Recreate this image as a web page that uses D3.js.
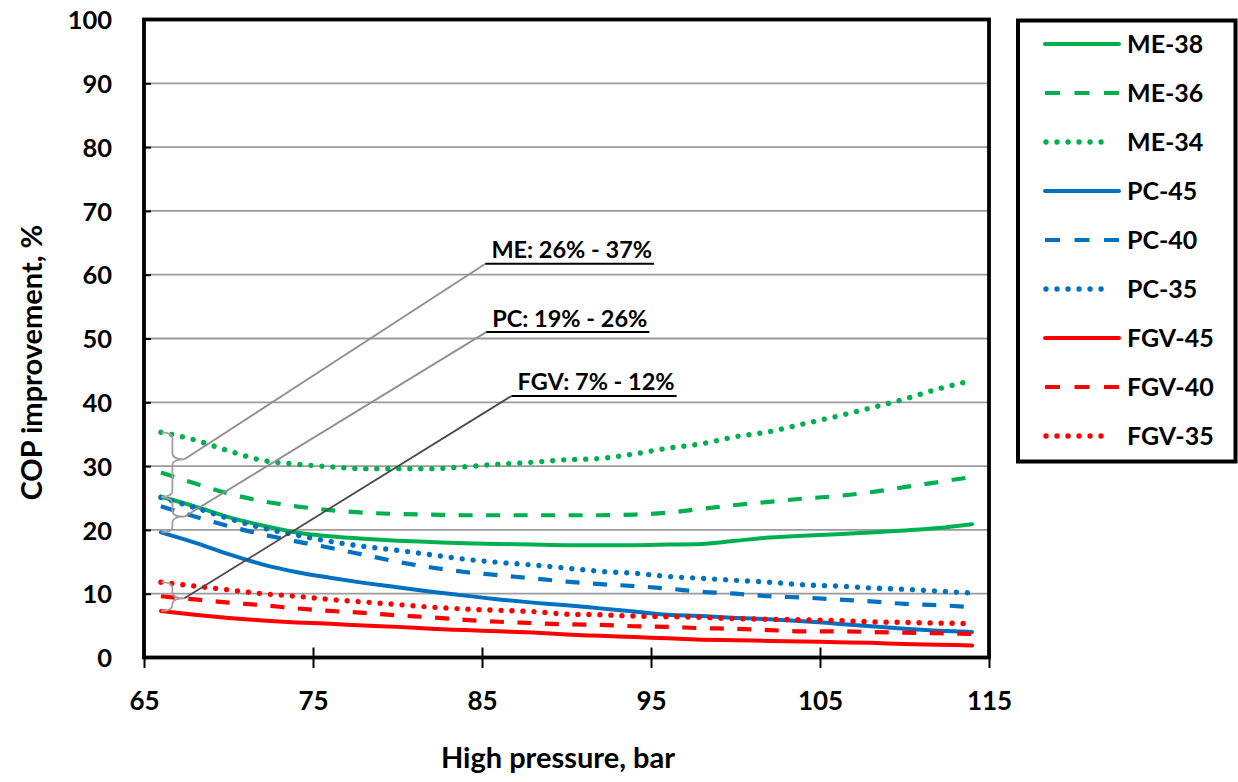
<!DOCTYPE html>
<html><head><meta charset="utf-8">
<script src="https://cdn.jsdelivr.net/npm/d3@7"></script>
<style>
body{margin:0;background:#fff;}
svg{display:block;font-family:Lato,'Open Sans',sans-serif;font-weight:700;}
</style>
</head><body>
<svg id="chart" width="1238" height="782"></svg>
<script>
// ---------------- data ----------------
const pressure = [66,68,70,72,74,76,78,80,82,84,86,88,90,92,94,96,98,100,102,104,106,108,110,112,114];
const me38  = [25.2,23.7,22.0,20.7,19.6,19.0,18.6,18.3,18.1,17.9,17.8,17.7,17.6,17.6,17.6,17.7,17.8,18.3,18.8,19.1,19.3,19.6,19.9,20.3,20.9];
const me36  = [29.0,27.3,25.7,24.5,23.7,23.1,22.7,22.5,22.4,22.3,22.3,22.3,22.3,22.3,22.4,22.7,23.3,23.9,24.4,24.9,25.3,25.9,26.7,27.5,28.3];
const me34  = [35.3,34.1,32.4,30.9,30.3,29.9,29.6,29.6,29.6,29.9,30.3,30.6,31.0,31.2,31.9,32.8,33.5,34.6,35.4,36.6,37.8,39.1,40.5,42.1,43.4];
const pc45  = [19.6,18.0,16.2,14.6,13.4,12.5,11.7,11.0,10.3,9.7,9.1,8.6,8.2,7.7,7.2,6.7,6.5,6.2,6.0,5.7,5.3,4.9,4.5,4.2,4.0];
const pc40  = [23.7,22.1,20.6,19.3,18.2,17.2,16.1,15.0,14.1,13.4,12.9,12.4,11.9,11.5,11.2,10.8,10.3,10.0,9.6,9.4,9.1,8.8,8.4,8.2,7.9];
const pc35  = [25.1,23.5,21.8,20.3,19.2,18.2,17.4,16.8,16.1,15.4,14.9,14.5,14.0,13.5,13.2,12.7,12.4,12.1,11.8,11.4,11.2,10.9,10.7,10.4,10.1];
const fgv45 = [7.3,6.7,6.2,5.8,5.5,5.3,5.0,4.8,4.5,4.3,4.1,3.9,3.6,3.4,3.2,3.0,2.8,2.7,2.6,2.5,2.4,2.3,2.1,2.0,1.9];
const fgv40 = [9.6,9.1,8.6,8.2,7.7,7.3,7.0,6.6,6.3,5.9,5.6,5.4,5.2,5.1,4.9,4.8,4.6,4.5,4.3,4.1,4.1,4.0,3.9,3.8,3.7];
const fgv35 = [11.8,11.2,10.6,10.0,9.6,9.1,8.7,8.3,7.9,7.6,7.4,7.2,6.8,6.7,6.5,6.4,6.3,6.1,6.0,5.9,5.8,5.6,5.5,5.4,5.3];

const seriesNames = ["ME-38","ME-36","ME-34","PC-45","PC-40","PC-35","FGV-45","FGV-40","FGV-35"];
const seriesValues = [me38, me36, me34, pc45, pc40, pc35, fgv45, fgv40, fgv35];

const xTicks = [65,75,85,95,105,115];
const yTicks = [0,10,20,30,40,50,60,70,80,90,100];
const xTitle = "High pressure, bar";
const yTitle = "COP improvement, %";
const annotationLabels = ["ME: 26% - 37%","PC: 19% - 26%","FGV: 7% - 12%"];

// ---------------- styles ----------------
const green = "#00B050", blue = "#0070C0", red = "#FF0000";
const seriesColors = [green,green,green,blue,blue,blue,red,red,red];
const seriesDash = ["solid","dashed","dotted","solid","dashed","dotted","solid","dashed","dotted"];
function applyStyle(sel, kind){
  if(kind==="dashed"){ sel.attr("stroke-dasharray","14 13.5").attr("stroke-linecap","butt").attr("stroke-width",4.2); }
  else if(kind==="dotted"){ sel.attr("stroke-dasharray","0.01 11").attr("stroke-linecap","round").attr("stroke-width",5.4); }
  else { sel.attr("stroke-linecap","round").attr("stroke-width",4); }
}

const svg = d3.select("#chart");
const x = d3.scaleLinear().domain([65,115]).range([144,989]);
const y = d3.scaleLinear().domain([0,100]).range([657.5,19.5]);

// gridlines
svg.append("g").selectAll("line").data(yTicks.filter(t=>t>0&&t<100)).join("line")
  .attr("x1",x(65)).attr("x2",x(115)).attr("y1",d=>y(d)).attr("y2",d=>y(d))
  .attr("stroke","#9b9b9b").attr("stroke-width",1.8);

// series
const line = d3.line().x((d,i)=>x(pressure[i])).y(d=>y(d)).curve(d3.curveMonotoneX);
seriesValues.forEach((vals,k)=>{
  const p = svg.append("path").attr("d",line(vals)).attr("fill","none")
    .attr("stroke",seriesColors[k]).attr("stroke-linejoin","round");
  applyStyle(p, seriesDash[k]);
});

// braces + leaders + labels
const groups = [
  {top: me34[0], bot: me38[0], frac:0.42, lx:85.2, ly:61.7, leader:"#8f8f8f"},
  {top: pc35[0], bot: pc45[0], frac:0.55, lx:85.25, ly:51.0, leader:"#8f8f8f"},
  {top: fgv35[0], bot: fgv45[0], frac:0.56, lx:86.75, ly:41.0, leader:"#4a4a4a"}
];
const ann = svg.append("g");
groups.forEach((g,i)=>{
  const x0 = x(pressure[0]) + 0.5, xs = x0 + 11, xt = xs + 12, r = 6;
  const yt = y(g.top), yb = y(g.bot), ym = yt + (yb-yt)*g.frac;
  const path = `M${x0},${yt} Q${xs},${yt} ${xs},${yt+r} L${xs},${ym-r} Q${xs},${ym} ${xt},${ym} Q${xs},${ym} ${xs},${ym+r} L${xs},${yb-r} Q${xs},${yb} ${x0},${yb}`;
  ann.append("path").attr("d",path).attr("fill","none").attr("stroke","#a0a0a0").attr("stroke-width",1.8);
  const ax = x(g.lx), ay = y(g.ly);
  ann.append("line").attr("x1",xt).attr("y1",ym).attr("x2",ax).attr("y2",ay)
    .attr("stroke",g.leader).attr("stroke-width",1.8);
  const t = ann.append("text").attr("x",ax+6).attr("y",ay-5.5)
    .attr("font-size",23.5).attr("fill","#000").text(annotationLabels[i]);
  const w = t.node().getComputedTextLength();
  ann.append("line").attr("x1",ax).attr("y1",ay).attr("x2",ax+6+w+2).attr("y2",ay)
    .attr("stroke","#000").attr("stroke-width",2);
});

// frame
svg.append("rect").attr("x",x(65)).attr("y",y(100)).attr("width",x(115)-x(65)).attr("height",y(0)-y(100))
  .attr("fill","none").attr("stroke","#000").attr("stroke-width",3.8);

// y axis
const yAxis = svg.append("g").attr("transform",`translate(${x(65)},0)`)
  .call(d3.axisLeft(y).tickValues(yTicks).tickSizeInner(-7).tickSizeOuter(0).tickPadding(32));
yAxis.select(".domain").remove();
yAxis.selectAll(".tick line").attr("stroke","#000").attr("stroke-width",2);
yAxis.selectAll(".tick text").attr("font-size",25.5).attr("font-family","Lato,'Open Sans',sans-serif")
  .attr("font-weight",700).attr("fill","#000").attr("dy","0.36em");

// x axis
const xAxis = svg.append("g").attr("transform",`translate(0,${y(0)})`)
  .call(d3.axisBottom(x).tickValues(xTicks).tickSizeInner(10).tickSizeOuter(0).tickPadding(10));
xAxis.select(".domain").remove();
xAxis.selectAll(".tick line").attr("y1",-10).attr("y2",10.5).attr("stroke","#000").attr("stroke-width",2);
xAxis.selectAll(".tick text").attr("font-size",26).attr("font-family","Lato,'Open Sans',sans-serif")
  .attr("font-weight",700).attr("fill","#000").attr("y",52.5).attr("dy",0);

// axis titles
svg.append("text").attr("x",558).attr("y",768).attr("text-anchor","middle")
  .attr("font-size",29).text(xTitle);
svg.append("text").attr("transform",`translate(42,${(y(0)+y(100))/2 + 24}) rotate(-90)`)
  .attr("text-anchor","middle").attr("font-size",29).text(yTitle);

// legend
const lg = svg.append("g");
lg.append("rect").attr("x",1018).attr("y",20.5).attr("width",217.5).attr("height",441)
  .attr("fill","#fff").attr("stroke","#000").attr("stroke-width",4);
seriesNames.forEach((n,k)=>{
  const yy = 44 + k*49;
  const l = lg.append("line").attr("x1",1045).attr("x2",1119).attr("y1",yy).attr("y2",yy)
    .attr("stroke",seriesColors[k]);
  applyStyle(l, seriesDash[k]);
  if(seriesDash[k]==="dashed") l.attr("stroke-dasharray","15 14.5");
  if(seriesDash[k]==="dotted") l.attr("x1",1046).attr("x2",1112);
  lg.append("text").attr("x",1127).attr("y",yy).attr("dy","0.36em").attr("font-size",25).text(n);
});
</script>
</body></html>
